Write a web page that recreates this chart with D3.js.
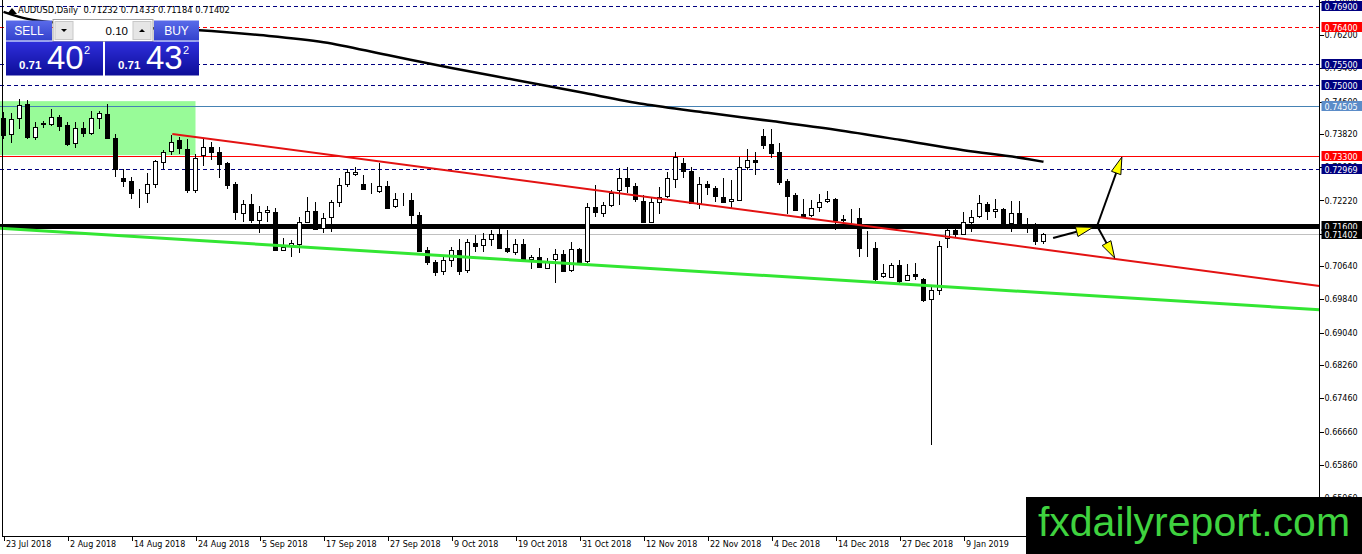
<!DOCTYPE html>
<html>
<head>
<meta charset="utf-8">
<script src="https://cdn.jsdelivr.net/npm/d3@7"></script>
<style>
   body { margin: 0; background: #fff; overflow: hidden; }
</style>
</head>
<body>
<svg id="chart" width="1362" height="554" font-family="DejaVu Sans"></svg>
<script>
// AUDUSD daily bars, [open, high, low, close], oldest first (23 Jul 2018 ->)
var ohlc = [
   [0.7420,0.7435,0.7370,0.7380],[0.7382,0.7433,0.7360,0.7417],[0.7420,0.7465,0.7393,0.7452],[0.7454,0.7464,0.7369,0.7375],
   [0.7375,0.7412,0.7368,0.7400],[0.7405,0.7414,0.7396,0.7408],[0.7406,0.7441,0.7401,0.7422],[0.7422,0.7428,0.7390,0.7401],
   [0.7404,0.7412,0.7354,0.7358],[0.7360,0.7412,0.7348,0.7396],[0.7396,0.7410,0.7375,0.7385],[0.7385,0.7438,0.7380,0.7420],
   [0.7420,0.7438,0.7393,0.7432],[0.7430,0.7454,0.7370,0.7372],[0.7372,0.7382,0.7278,0.7298],[0.7275,0.7298,0.7255,0.7267],
   [0.7269,0.7279,0.7225,0.7239],[0.7240,0.7249,0.7203,0.7239],[0.7239,0.7287,0.7215,0.7261],[0.7261,0.7319,0.7251,0.7317],
   [0.7313,0.7343,0.7298,0.7338],[0.7342,0.7380,0.7331,0.7363],[0.7367,0.7374,0.7334,0.7348],[0.7345,0.7369,0.7239,0.7246],
   [0.7247,0.7335,0.7239,0.7325],[0.7331,0.7372,0.7304,0.7350],[0.7350,0.7363,0.7319,0.7337],[0.7338,0.7350,0.7275,0.7310],
   [0.7313,0.7315,0.7249,0.7259],[0.7261,0.7267,0.7175,0.7193],[0.7193,0.7223,0.7169,0.7214],[0.7213,0.7238,0.7167,0.7175],
   [0.7175,0.7209,0.7144,0.7194],[0.7193,0.7209,0.7169,0.7199],[0.7195,0.7203,0.7100,0.7103],[0.7103,0.7131,0.7100,0.7111],
   [0.7115,0.7127,0.7087,0.7119],[0.7119,0.7183,0.7095,0.7171],[0.7170,0.7230,0.7167,0.7197],[0.7197,0.7219,0.7151,0.7153],
   [0.7156,0.7193,0.7144,0.7181],[0.7181,0.7223,0.7147,0.7218],[0.7219,0.7275,0.7207,0.7259],[0.7261,0.7297,0.7255,0.7290],
   [0.7287,0.7303,0.7281,0.7291],[0.7262,0.7283,0.7249,0.7250],[0.7251,0.7263,0.7237,0.7250],[0.7246,0.7313,0.7239,0.7257],
   [0.7257,0.7269,0.7203,0.7205],[0.7209,0.7239,0.7205,0.7225],[0.7223,0.7239,0.7209,0.7224],[0.7223,0.7239,0.7165,0.7187],
   [0.7187,0.7195,0.7099,0.7101],[0.7103,0.7111,0.7067,0.7075],[0.7073,0.7079,0.7040,0.7049],[0.7053,0.7087,0.7043,0.7079],
   [0.7079,0.7109,0.7063,0.7103],[0.7103,0.7129,0.7043,0.7053],[0.7053,0.7129,0.7047,0.7121],[0.7119,0.7139,0.7099,0.7111],
   [0.7115,0.7143,0.7099,0.7129],[0.7129,0.7151,0.7112,0.7141],[0.7141,0.7155,0.7104,0.7107],[0.7108,0.7151,0.7096,0.7100],
   [0.7097,0.7129,0.7091,0.7117],[0.7117,0.7129,0.7077,0.7081],[0.7080,0.7091,0.7056,0.7085],[0.7085,0.7107,0.7059,0.7060],
   [0.7059,0.7083,0.7056,0.7077],[0.7080,0.7104,0.7023,0.7093],[0.7093,0.7103,0.7051,0.7053],[0.7053,0.7123,0.7051,0.7104],
   [0.7104,0.7107,0.7069,0.7072],[0.7075,0.7215,0.7072,0.7206],[0.7206,0.7259,0.7183,0.7193],[0.7191,0.7219,0.7183,0.7211],
   [0.7211,0.7247,0.7207,0.7239],[0.7246,0.7299,0.7211,0.7275],[0.7275,0.7303,0.7239,0.7255],[0.7257,0.7263,0.7219,0.7225],
   [0.7221,0.7235,0.7170,0.7171],[0.7171,0.7227,0.7167,0.7219],[0.7219,0.7255,0.7189,0.7230],[0.7231,0.7291,0.7227,0.7275],
   [0.7275,0.7338,0.7251,0.7327],[0.7311,0.7325,0.7277,0.7291],[0.7293,0.7303,0.7213,0.7215],[0.7213,0.7279,0.7201,0.7261],
   [0.7261,0.7269,0.7235,0.7253],[0.7251,0.7258,0.7219,0.7231],[0.7231,0.7275,0.7218,0.7219],[0.7219,0.7271,0.7205,0.7225],
   [0.7223,0.7327,0.7221,0.7303],[0.7303,0.7347,0.7295,0.7319],[0.7319,0.7339,0.7283,0.7314],[0.7378,0.7394,0.7346,0.7357],
   [0.7357,0.7394,0.7325,0.7335],[0.7338,0.7360,0.7259,0.7267],[0.7269,0.7274,0.7189,0.7233],[0.7235,0.7239,0.7197,0.7199],
   [0.7189,0.7226,0.7183,0.7185],[0.7187,0.7223,0.7183,0.7205],[0.7205,0.7237,0.7195,0.7218],[0.7219,0.7245,0.7215,0.7225],
   [0.7226,0.7229,0.7151,0.7175],[0.7177,0.7187,0.7167,0.7174],[0.7175,0.7201,0.7163,0.7175],[0.7180,0.7203,0.7087,0.7107],
   [0.7108,0.7148,0.7087,0.7107],[0.7108,0.7123,0.7028,0.7033],[0.7039,0.7068,0.7035,0.7047],[0.7039,0.7071,0.7035,0.7067],
   [0.7067,0.7079,0.7019,0.7028],[0.7031,0.7068,0.7028,0.7043],[0.7045,0.7071,0.7031,0.7041],[0.7033,0.7035,0.6978,0.6982],
   [0.6985,0.7015,0.6634,0.7007],[0.7007,0.7124,0.6995,0.7113],[0.7131,0.7159,0.7108,0.7151],[0.7151,0.7155,0.7133,0.7141],
   [0.7141,0.7194,0.7139,0.7170],[0.7170,0.7199,0.7147,0.7183],[0.7183,0.7235,0.7179,0.7215],[0.7213,0.7218,0.7175,0.7197],
   [0.7197,0.7226,0.7180,0.7201],[0.7201,0.7203,0.7163,0.7165],[0.7167,0.7221,0.7147,0.7191],[0.7191,0.7221,0.7163,0.7165],
   [0.7165,0.7181,0.7143,0.7164],[0.7165,0.7167,0.7115,0.7124],[0.71232,0.71433,0.71184,0.71402]];

// one date label every 8 bars
var date_labels = ["23 Jul 2018","2 Aug 2018","14 Aug 2018","24 Aug 2018","5 Sep 2018","17 Sep 2018","27 Sep 2018",
   "9 Oct 2018","19 Oct 2018","31 Oct 2018","12 Nov 2018","22 Nov 2018","4 Dec 2018","14 Dec 2018","27 Dec 2018","9 Jan 2019"];
var bars_per_label = 8;

var price_ticks = [0.7700,0.7620,0.7540,0.7460,0.7382,0.7302,0.7222,0.7142,0.7064,0.6984,0.6904,0.6826,0.6746,0.6666,0.6586,0.6506];

// horizontal levels drawn on the chart
var level_prices = [0.76900, 0.76400, 0.75500, 0.75000, 0.74505, 0.73300, 0.72969, 0.71600];
var level_kinds  = ["navy_dash","red_dash","navy_dash","navy_dash","blue_solid","red_solid","navy_dash","black_thick"];
var bid_price = 0.71402;

// 200 day moving average, [bar, price]
var ma_points = [[0,0.7676],[3,0.7659],[12,0.7642],[24,0.7632],[32,0.7620],[40,0.7603],[48,0.7572],[56,0.7541],
   [64,0.7512],[72,0.7483],[80,0.7454],[88,0.7433],[96,0.7413],[104,0.7392],[112,0.7368],[120,0.7343],[128,0.7322],[130,0.7315]];

// trend lines, [bar, price] -> [bar, price]
var red_trend = [[21.1,0.7382],[164.5,0.7016]];
var green_trend = [[-0.45,0.7155],[164.5,0.6959]];

// green box, bars and prices
var zone_bars = [-1, 24];
var zone_prices = [0.7461, 0.7331];

// scenario arrows [bar, price] from -> to
var arrows = [
   [[131.2,0.71317],[136.2,0.71574]],
   [[136.7,0.71605],[139.8,0.73266]],
   [[136.7,0.71605],[138.9,0.70835]]];

var kind_style = {
   "navy_dash":   {color:"#000080", width:1, dash:"4,3", box:"#000080"},
   "red_dash":    {color:"#ff0000", width:1, dash:"4,3", box:"#ff0000"},
   "blue_solid":  {color:"#4682b4", width:1, dash:null,  box:"#5b8cc8"},
   "red_solid":   {color:"#ff0000", width:1, dash:null,  box:"#ff0000"},
   "black_thick": {color:"#000000", width:5, dash:null,  box:"#000000"}};

var svg = d3.select("#chart");
var plot_right = 1319.5, plot_bottom = 536.5, plot_left = 2.5;

var x = d3.scaleLinear().domain([0, ohlc.length - 1]).range([3.5, 3.5 + 8 * (ohlc.length - 1)]);
var y = d3.scaleLinear().domain([0.769, 0.6666]).range([6, 431.5]);

var defs = svg.append("defs");
defs.append("clipPath").attr("id", "plot_clip")
   .append("rect").attr("x", 0).attr("y", 0).attr("width", plot_right).attr("height", plot_bottom);

var plot = svg.append("g").attr("clip-path", "url(#plot_clip)");

// zone
plot.append("rect")
   .attr("x", x(zone_bars[0])).attr("width", x(zone_bars[1]) - x(zone_bars[0]))
   .attr("y", y(zone_prices[0])).attr("height", y(zone_prices[1]) - y(zone_prices[0]))
   .attr("fill", "#98fb98");

// levels
plot.selectAll("line.level").data(level_prices).enter().append("line").attr("class", "level")
   .attr("x1", 0).attr("x2", plot_right)
   .attr("y1", function(d) { return Math.round(y(d)) + 0.5; })
   .attr("y2", function(d) { return Math.round(y(d)) + 0.5; })
   .attr("stroke", function(d, i) { return kind_style[level_kinds[i]].color; })
   .attr("stroke-width", function(d, i) { return kind_style[level_kinds[i]].width; })
   .attr("stroke-dasharray", function(d, i) { return kind_style[level_kinds[i]].dash; })
   .style("shape-rendering", "crispEdges");

plot.append("line")
   .attr("x1", 0).attr("x2", plot_right)
   .attr("y1", Math.round(y(bid_price)) + 0.5).attr("y2", Math.round(y(bid_price)) + 0.5)
   .attr("stroke", "#c0c0c0").style("shape-rendering", "crispEdges");

// candles
var bars = plot.selectAll("g.bar").data(ohlc).enter().append("g").attr("class", "bar");
bars.append("line")
   .attr("x1", function(d, i) { return x(i); }).attr("x2", function(d, i) { return x(i); })
   .attr("y1", function(d) { return Math.round(y(d[1])); })
   .attr("y2", function(d) { return Math.round(y(d[2])); })
   .attr("stroke", "#000").style("shape-rendering", "crispEdges");
bars.append("rect")
   .attr("x", function(d, i) { return x(i) - 2; }).attr("width", 4)
   .attr("y", function(d) { return Math.round(y(Math.max(d[0], d[3]))) + 0.5; })
   .attr("height", function(d) { return Math.max(0, Math.round(Math.abs(y(d[0]) - y(d[3])))); })
   .attr("fill", function(d) { return d[3] >= d[0] ? "#fff" : "#000"; })
   .attr("stroke", "#000").style("shape-rendering", "crispEdges");

// trend lines
function trend(pts, clr, w) {
   plot.append("line")
      .attr("x1", x(pts[0][0])).attr("y1", y(pts[0][1]))
      .attr("x2", x(pts[1][0])).attr("y2", y(pts[1][1]))
      .attr("stroke", clr).attr("stroke-width", w);
}
trend(green_trend, "#33e633", 3);
trend(red_trend, "#e31212", 2);

// moving average
plot.append("path").datum(ma_points)
   .attr("d", d3.line().x(function(d) { return x(d[0]); }).y(function(d) { return y(d[1]); }).curve(d3.curveMonotoneX))
   .attr("fill", "none").attr("stroke", "#000").attr("stroke-width", 2.5);

// arrows
arrows.forEach(function(a) {
   var x1 = x(a[0][0]), y1 = y(a[0][1]), x2 = x(a[1][0]), y2 = y(a[1][1]);
   var ang = Math.atan2(y2 - y1, x2 - x1), len = 17, hw = 5;
   var bx = x2 - len * Math.cos(ang), by = y2 - len * Math.sin(ang);
   svg.append("line").attr("x1", x1).attr("y1", y1).attr("x2", bx).attr("y2", by)
      .attr("stroke", "#000").attr("stroke-width", 2);
   svg.append("path")
      .attr("d", "M" + x2 + "," + y2 + "L" + (bx - hw * Math.sin(ang)) + "," + (by + hw * Math.cos(ang)) +
                 "L" + (bx + hw * Math.sin(ang)) + "," + (by - hw * Math.cos(ang)) + "Z")
      .attr("fill", "#ffff00").attr("stroke", "#000").attr("stroke-width", 1);
});

// frame
svg.append("line").attr("x1", plot_left).attr("x2", plot_left).attr("y1", 0).attr("y2", plot_bottom)
   .attr("stroke", "#000").style("shape-rendering", "crispEdges");
svg.append("line").attr("x1", plot_left).attr("x2", plot_right).attr("y1", plot_bottom).attr("y2", plot_bottom)
   .attr("stroke", "#000").style("shape-rendering", "crispEdges");
svg.append("line").attr("x1", plot_right).attr("x2", plot_right).attr("y1", 0).attr("y2", 554)
   .attr("stroke", "#000").style("shape-rendering", "crispEdges");

// price axis
var y_axis = svg.append("g").attr("transform", "translate(" + plot_right + ",0)")
   .call(d3.axisRight(y).tickValues(price_ticks).tickFormat(d3.format(".5f")).tickSize(4).tickPadding(1));
y_axis.select(".domain").remove();
y_axis.attr("font-size", 8).attr("font-family", "DejaVu Sans");
y_axis.selectAll("text").attr("fill", "#000");
y_axis.selectAll("line").style("shape-rendering", "crispEdges");

// date axis
var x_axis = svg.append("g").attr("transform", "translate(0," + plot_bottom + ")")
   .call(d3.axisBottom(x).tickValues(date_labels.map(function(d, i) { return i * bars_per_label; }))
      .tickFormat(function(d) { return date_labels[d / bars_per_label]; }).tickSize(4).tickPadding(1));
x_axis.select(".domain").remove();
x_axis.attr("font-size", 8).attr("font-family", "DejaVu Sans");
x_axis.selectAll("text").attr("fill", "#000").attr("text-anchor", "start").attr("dx", 2);
x_axis.selectAll("line").style("shape-rendering", "crispEdges");

// level labels on the price axis
var lbl_data = level_prices.map(function(p, i) { return {p: p, box: kind_style[level_kinds[i]].box}; });
lbl_data.push({p: bid_price, box: "#000"});
var lbls = svg.selectAll("g.lvl_lbl").data(lbl_data).enter().append("g").attr("class", "lvl_lbl")
   .attr("transform", function(d) { return "translate(" + (plot_right + 1) + "," + Math.round(y(d.p)) + ")"; });
lbls.append("rect").attr("x", 1).attr("y", -5).attr("width", 41).attr("height", 10)
   .attr("fill", function(d) { return d.box; });
lbls.append("text").attr("x", 4).attr("y", 3.5).attr("font-size", 8).attr("fill", "#fff")
   .text(function(d) { return d.p.toFixed(5); });

// title
svg.append("path").attr("d", "M7,14L12,8L17,14Z").attr("fill", "#000");
svg.append("text").attr("x", 18).attr("y", 13).attr("font-size", 8.4).style("white-space", "pre")
   .text("AUDUSD,Daily  0.71232 0.71433 0.71184 0.71402");

// one click trading panel
var g1 = defs.append("linearGradient").attr("id", "btn_grad").attr("x1", 0).attr("y1", 0).attr("x2", 0).attr("y2", 1);
g1.append("stop").attr("offset", "0%").attr("stop-color", "#5a6bea");
g1.append("stop").attr("offset", "100%").attr("stop-color", "#3342cc");
var g2 = defs.append("linearGradient").attr("id", "px_grad").attr("x1", 0).attr("y1", 0).attr("x2", 0).attr("y2", 1);
g2.append("stop").attr("offset", "0%").attr("stop-color", "#2f2fdc");
g2.append("stop").attr("offset", "100%").attr("stop-color", "#0d0d98");

var panel = svg.append("g").attr("font-family", "Liberation Sans");
panel.append("rect").attr("x", 53).attr("y", 19.5).attr("width", 100).attr("height", 22)
   .attr("fill", "#fff").attr("stroke", "#a0a0a0");
panel.append("rect").attr("x", 55).attr("y", 21.5).attr("width", 18).attr("height", 18)
   .attr("fill", "#e6e6e6").attr("stroke", "#c8c8c8");
panel.append("rect").attr("x", 133).attr("y", 21.5).attr("width", 18).attr("height", 18)
   .attr("fill", "#e6e6e6").attr("stroke", "#c8c8c8");
panel.append("path").attr("d", "M61,29L67,29L64,32Z").attr("fill", "#000");
panel.append("path").attr("d", "M139,32L145,32L142,29Z").attr("fill", "#000");
panel.append("text").attr("x", 128).attr("y", 35).attr("text-anchor", "end").attr("font-size", 11.5).text("0.10");

var sides = [{x: 6, w: 46, px_x: 6, px_w: 97, lbl: "SELL", big: "40"}, {x: 154, w: 45, px_x: 105, px_w: 94, lbl: "BUY", big: "43"}];
sides.forEach(function(s) {
   panel.append("rect").attr("x", s.x).attr("y", 20.5).attr("width", s.w).attr("height", 20).attr("fill", "url(#btn_grad)");
   panel.append("text").attr("x", s.x + s.w / 2).attr("y", 35).attr("text-anchor", "middle")
      .attr("font-size", 12).attr("fill", "#fff").text(s.lbl);
   panel.append("rect").attr("x", s.px_x).attr("y", 41.5).attr("width", s.px_w).attr("height", 34).attr("fill", "url(#px_grad)");
   panel.append("line").attr("x1", s.x + 3).attr("x2", s.x + s.w - 3).attr("y1", 41.5).attr("y2", 41.5)
      .attr("stroke", "#9aa4f2").attr("stroke-width", 1);
   panel.append("text").attr("x", s.px_x + 13).attr("y", 69).attr("fill", "#fff")
      .attr("font-size", 11.5).attr("font-weight", "bold").text("0.71");
   panel.append("text").attr("x", s.px_x + 41).attr("y", 69).attr("fill", "#fff")
      .attr("font-size", 33).text(s.big);
   panel.append("text").attr("x", s.px_x + 78).attr("y", 54).attr("fill", "#fff")
      .attr("font-size", 11).text("2");
});

// watermark
svg.append("rect").attr("x", 1026).attr("y", 497).attr("width", 336).attr("height", 57).attr("fill", "#000");
svg.append("text").attr("x", 1194).attr("y", 536).attr("text-anchor", "middle")
   .attr("font-family", "Liberation Sans").attr("font-size", 41).attr("fill", "#3fd23f").text("fxdailyreport.com");
</script>
</body>
</html>
